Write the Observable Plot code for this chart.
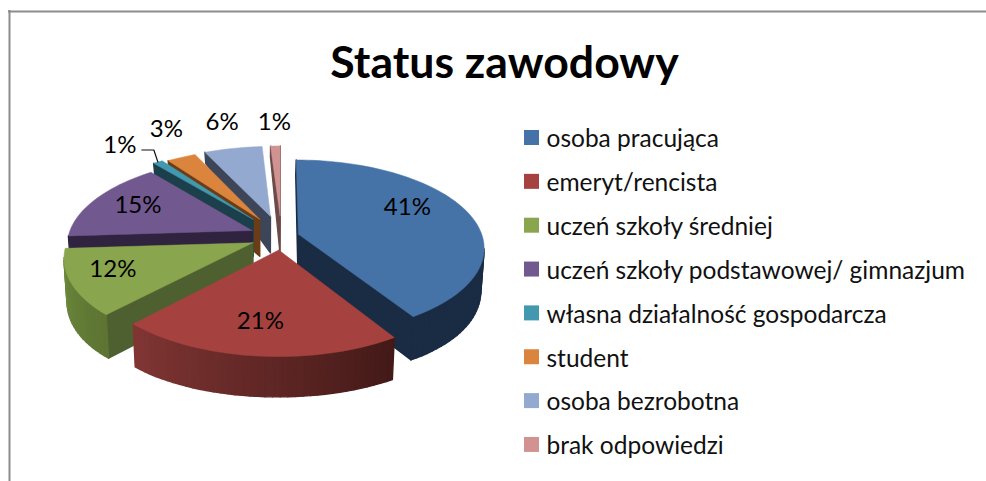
<!DOCTYPE html>
<html><head><meta charset="utf-8">
<script src="https://cdn.jsdelivr.net/npm/d3@7"></script>
<script src="https://cdn.jsdelivr.net/npm/@observablehq/plot@0.6"></script>
<style>html,body{margin:0;padding:0;background:#fff}svg{display:block}</style>
</head><body><div id="c"></div>
<script>
const chartTitle = "Status zawodowy";
const categories = ["osoba pracująca","emeryt/rencista","uczeń szkoły średniej","uczeń szkoły podstawowej/ gimnazjum","własna działalność gospodarcza","student","osoba bezrobotna","brak odpowiedzi"];
const values = [41,21,12,15,1,3,6,1];

// styling
const topColors = ["#4572a7","#a5423f","#89a54e","#71588f","#4198af","#db843d","#93a9cf","#d19392"];
const edgeColors = ["#1a2c44","#3c1917","#4f6030","#2f2340","#1b3f4b","#6a3d16","#3d4659","#6b4a4a"];
const wallStart = ["#1a2c44","#431a18","#5d7433","#2f2340","#1b3f4b","#6a3d16","#3d4659","#6b4a4a"];
const wallEnd   = ["#1a2c44","#823634","#6f8c3d","#2f2340","#1b3f4b","#6a3d16","#3d4659","#6b4a4a"];
const explosion = [.096,.155,.17,.176,.26,.24,.25,.25];
const drawOrder = [7,6,5,4,3,2,0,1];
// label placement: fraction of radius + pixel nudge
const labelFrac = [.65,.62,.68,.68,1,1,1,1];
const labelNudge = [[-2,-12],[-6,10],[-19,0],[-6,-3],[-38,-17],[-15,-28],[-11,-26],[-1,-24]];

// projection of the tilted disc
const cx=281, cy=236, Rx=184, Ry=86, k=.15;
const project=(U,V)=>{const p=1/(1+k*V);return [cx+Rx*U*p, cy-Ry*V*p];};
const depth=V=>Math.max(11,40.15-12.72*V-10.87*V*V);
const lower=(U,V)=>{const [x,y]=project(U,V);return [265+(x-265)*.985,y+depth(V)];};

const total=d3.sum(values);
const polys=[];let pid=0;
const addPoly=(pts,fill,sw)=>{pid++;for(const [x,y] of [...pts,pts[0]])polys.push({id:pid,x,y,fill,sw});};
const cum=d3.cumsum(values);
const slices=values.map((v,i)=>{
  const a0=(cum[i]-v)/total*2*Math.PI,a1=cum[i]/total*2*Math.PI,b=(a0+a1)/2;
  return {i,a0,a1,b,ax:explosion[i]*Math.sin(b),ay:explosion[i]*Math.cos(b)};
});
for(const i of drawOrder){
  const s=slices[i];
  const n=Math.max(2,Math.ceil((s.a1-s.a0)/(Math.PI/90)));
  const world=[[s.ax,s.ay]];
  for(let j=0;j<=n;j++){const a=s.a0+(s.a1-s.a0)*j/n;world.push([s.ax+Math.sin(a),s.ay+Math.cos(a)]);}
  world.push([s.ax,s.ay]);
  const col=d3.interpolateRgb(wallStart[i],wallEnd[i]);
  for(let j=0;j<world.length-1;j++){
    const a=world[j],b=world[j+1],pa=project(...a),pb=project(...b);
    if(pb[0]>=pa[0]-.01)continue;
    const isRim=j>0&&j<world.length-2;
    addPoly([pa,pb,lower(...b),lower(...a)],isRim?col((j-1)/n):edgeColors[i],1.4);
  }
  addPoly(world.slice(0,-1).map(w=>project(...w)),topColors[i],.5);
}

const labels=slices.map(s=>{
  const f=labelFrac[s.i];
  const [x,y]=project(s.ax+f*Math.sin(s.b),s.ay+f*Math.cos(s.b));
  return {x:x+labelNudge[s.i][0],y:y+labelNudge[s.i][1],t:values[s.i]+"%"};
});
const tealRim=project(slices[4].ax+Math.sin(slices[4].b),slices[4].ay+Math.cos(slices[4].b));
const leader=[[labels[4].x+22,labels[4].y+5],[labels[4].x+34,labels[4].y+5],tealRim];

const legend=categories.map((c,i)=>({c,i,y:139+i*43.85}));
const FONT="Lato, Carlito, sans-serif";

document.getElementById("c").append(Plot.plot({
  width:986,height:481,margin:0,
  style:{background:"#fff",fontFamily:FONT},
  x:{domain:[0,986],range:[0,986],axis:null},
  y:{domain:[0,481],range:[0,481],axis:null},
  marks:[
    Plot.ruleY([11],{x1:8,x2:986,stroke:"#8c8c8c",strokeWidth:2}),
    Plot.ruleX([9],{y1:10,y2:481,stroke:"#8c8c8c",strokeWidth:2}),
    Plot.line(polys,{x:"x",y:"y",z:"id",fill:"fill",stroke:"fill",strokeWidth:"sw",curve:"linear"}),
    Plot.line(leader,{x:d=>d[0],y:d=>d[1],stroke:"#111",strokeWidth:1.2}),
    Plot.text(labels,{x:"x",y:"y",text:"t",fontSize:24,fill:"#000",fontFamily:FONT}),
    Plot.text([chartTitle],{x:()=>504,y:()=>63,text:d=>d,fontSize:44.6,fontWeight:700,fill:"#000",fontFamily:FONT}),
    Plot.rect(legend,{x1:()=>524,x2:()=>539,y1:d=>d.y-9,y2:d=>d.y+6,fill:d=>topColors[d.i]}),
    Plot.text(legend,{x:()=>546,y:"y",text:"c",textAnchor:"start",fontSize:24.5,fill:"#111",fontFamily:FONT})
  ]
}));
</script></body></html>
